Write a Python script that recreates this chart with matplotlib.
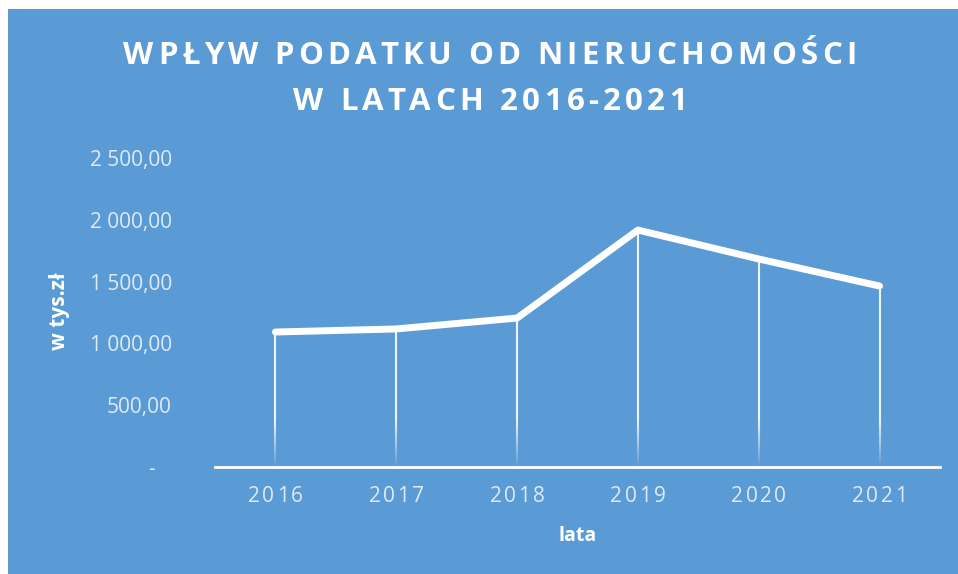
import numpy as np
import matplotlib
matplotlib.use('Agg')
import matplotlib.pyplot as plt
from matplotlib.patches import Rectangle
from matplotlib.collections import LineCollection
from matplotlib.font_manager import FontProperties

years = ['2016', '2017', '2018', '2019', '2020', '2021']
values = [1092, 1117, 1205, 1917, 1683, 1464]
yticks = [0, 500, 1000, 1500, 2000, 2500]
ytick_labels = ['-   ', '500,00', '1 000,00', '1 500,00', '2 000,00', '2 500,00']

BG = '#5B9BD5'
TICK = '#DDEBF7'
W, H = 958, 574

plt.rcParams['font.family'] = ['Open Sans', 'DejaVu Sans']

fig = plt.figure(figsize=(W / 100, H / 100), dpi=100)
fig.patch.set_facecolor('white')
fig.patches.append(Rectangle((8 / W, 0), 1, 1 - 9 / H, transform=fig.transFigure,
                             facecolor=BG, edgecolor='none', zorder=-5))
renderer = fig.canvas.get_renderer()


def char_width(ch, prop):
    # advance width in pixels, spaces measured by difference
    w1, _, _ = renderer.get_text_width_height_descent('x' + ch + 'x', prop, ismath=False)
    w2, _, _ = renderer.get_text_width_height_descent('xx', prop, ismath=False)
    return w1 - w2


def spaced_text(cx, cy, s, spacing, size, weight='normal', color='white'):
    # letter-spaced text centred at pixel (cx, cy), y from top
    prop = FontProperties(family=['Open Sans', 'DejaVu Sans'], size=size, weight=weight)
    widths = [char_width(c, prop) for c in s]
    total = sum(widths) + spacing * (len(s) - 1)
    xpos = cx - total / 2
    for c, w in zip(s, widths):
        fig.text(xpos / W, 1 - cy / H, c, fontproperties=prop, color=color,
                 ha='left', va='center')
        xpos += w + spacing


ax = fig.add_axes([215 / W, (H - 467) / H, 725 / W, 309 / H])
ax.set_facecolor('none')
ax.set_zorder(2)
x = np.arange(len(years))

# drop lines, fading out near the axis
segs, cols = [], []
for xi, v in zip(x, values):
    fade = 380
    segs.append([(xi, fade), (xi, v)])
    cols.append((1, 1, 1, 0.9))
    n = 20
    edges = np.linspace(0, fade, n + 1)
    for k in range(n):
        segs.append([(xi, edges[k]), (xi, edges[k + 1])])
        cols.append((1, 1, 1, 0.9 * (k + 0.5) / n))
ax.add_collection(LineCollection(segs, colors=cols, linewidths=1.5, zorder=2))

ax.plot(x, values, color='white', lw=5, solid_capstyle='round',
        solid_joinstyle='round', zorder=3)

ax.set_xlim(-0.5, 5.5)
ax.set_ylim(0, 2500)
for s in ['top', 'right', 'left']:
    ax.spines[s].set_visible(False)
ax.spines['bottom'].set_color('white')
ax.spines['bottom'].set_linewidth(2)

ax.set_xticks(x)
ax.set_xticklabels([])
ax.set_yticks(yticks)
ax.set_yticklabels(ytick_labels, fontsize=15, color=TICK)
ax.tick_params(axis='both', length=0)
ax.tick_params(axis='y', pad=31)

# year labels with letter spacing, placed under each category
for xi, yr in zip(x, years):
    px = ax.transData.transform((xi, 0))[0]
    spaced_text(px, 497, yr, 2.5, 15, color=TICK)

spaced_text(490, 56, 'WPŁYW PODATKU OD NIERUCHOMOŚCI', 4.3, 22.5, weight='bold')
spaced_text(490, 102, 'W LATACH 2016-2021', 4.3, 22.5, weight='bold')

fig.text(578 / W, 1 - 536 / H, 'lata', ha='center', va='center',
         color='white', fontsize=14, fontweight='bold')
fig.text(59 / W, 1 - 311 / H, 'w tys.zł', ha='center', va='center',
         color='white', fontsize=15, fontweight='bold', rotation=90)

fig.savefig('out.png', dpi=100, facecolor=fig.get_facecolor())
